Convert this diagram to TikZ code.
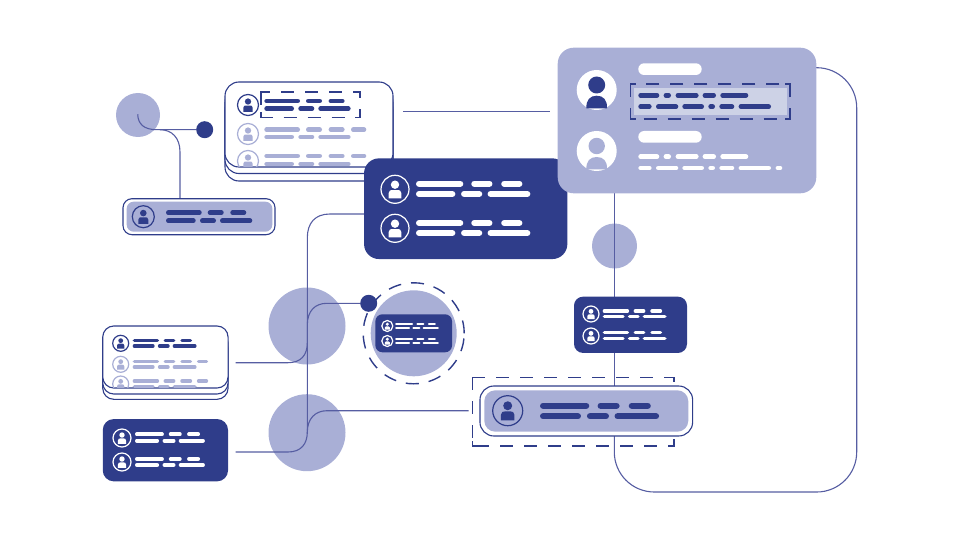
\documentclass[tikz,border=0pt]{standalone}
\usetikzlibrary{calc}

\definecolor{navy}{HTML}{2F3D8A}
\definecolor{lilac}{HTML}{A9AFD6}
\definecolor{mist}{HTML}{CDD2E6}
\definecolor{wire}{HTML}{565DA2}

\tikzset{
	blob/.style={circle, fill=lilac, inner sep=0, outer sep=0},
	dot/.style={circle, fill=navy, inner sep=0, outer sep=0, minimum size=17pt},
	card/.style={rectangle, inner sep=0, outer sep=0},
	darkcard/.style={card, fill=navy},
	paper/.style={card, fill=white, draw=navy, line width=1.1pt},
	softcard/.style={card, fill=lilac},
	link/.style={draw=wire, line width=1.1pt},
	marks/.style={draw=navy, line width=1.4pt},
	dashes/.style={marks, dash pattern=on 13pt off 11pt},
}

% one row of text bars: x, y, scale, colour, list
\newcommand{\barrow}[5]{
	\foreach \a/\b in #5 {
		\draw[#4, line cap=round, line width=#3*4.6pt] ({#1+#3*(\a+2.3)},#2) -- ({#1+#3*(\b-2.3)},#2);
	}
}
% ring with a person: x, y, radius, ring, person
\newcommand{\personicon}[5]{
	\draw[#4, line width=1.2pt] (#1,#2) circle [radius=#3];
	\begin{scope}[shift={(#1,#2)}, scale=#3]
		\fill[#5] (0,-.33) circle [radius=.3];
		\fill[#5] (-.45,.65) -- (-.45,.27) .. controls (-.45,.08) and (-.3,.05) .. (-.2,.05) -- (.2,.05) .. controls (.3,.05) and (.45,.08) .. (.45,.27) -- (.45,.65) -- cycle;
	\end{scope}
}
% dashed frame with solid corners: x1, y1, x2, y2
\newcommand{\dashframe}[4]{
	\draw[dashes] (#1,#2) rectangle (#3,#4);
	\draw[marks] (#1,#2+5) -- (#1,#2) -- (#1+5,#2);
	\draw[marks] (#3-5,#2) -- (#3,#2) -- (#3,#2+5);
	\draw[marks] (#3,#4-5) -- (#3,#4) -- (#3-5,#4);
	\draw[marks] (#1+5,#4) -- (#1,#4) -- (#1,#4-5);
}

\def\rowa{0/35.7,41.7/57.7,64.3/80.3}
\def\rowb{0/29.7,34/50,54/86.3}
\def\rowc{0/35.7,41.7/57.7,64.3/80.3,86.7/102}
\def\lineone{0/21,25.3/32.7,37.3/60.3,64.3/77.7,82/110}
\def\linetwo{0/13.3,17.7/40,44/65.7,70/76.7,81/96,100.3/132.7}
\def\linethree{0/13.3,17.7/40,44/65.7,70/76.7,81/96,100.3/132.7,137.3/144}

\begin{document}
\begin{tikzpicture}[x=1pt, y=-1pt]
	\useasboundingbox (0,0) rectangle (960,540);

	% blobs
	\node[blob, minimum size=44pt] (blobtop) at (138,115) {};
	\node[blob, minimum size=45pt] (blobmid) at (614.5,246) {};
	\node[blob, minimum size=77pt] (blobleft) at (307,326) {};
	\node[blob, minimum size=77pt] (blobdown) at (307,432.7) {};
	\node[blob, minimum size=86pt] (blobring) at (413.7,333.3) {};
	\node[circle, marks, dash pattern=on 13pt off 10pt, minimum size=101pt, inner sep=0] (ring) at (413.7,333.3) {};
	\node[dot] (dottop) at (204.7,129.7) {};
	\node[dot] (dotleft) at (368.7,303.3) {};

	% free ends
	\coordinate (topstart) at (137.7,114.3);
	\coordinate (lineA) at (403,111.5);
	\coordinate (lineD) at (550,111.5);
	\coordinate (leftG) at (235.7,362.7);
	\coordinate (leftH) at (235.7,452);
	\coordinate (rightF) at (468.7,410.7);
	\coordinate (outD) at (816,67.7);

	% connectors
	\draw[link] (topstart) .. controls (138,124) and (144,129.7) .. (156.7,129.7) -- (dottop);
	\draw[link] (160,129.7) .. controls (172,129.7) and (180,138) .. (180,152) -- (180,199);
	\draw[link] (lineA) -- (lineD);
	\draw[link] (364,214) -- (330,214) .. controls (315,214) and (307.3,223) .. (307.3,238) -- (307.3,434);
	\draw[link] (leftG) -- (288,362.7) .. controls (301,362.7) and (307.3,355) .. (307.3,343) -- (307.3,325) .. controls (307.3,311) and (315,303.3) .. (327,303.3) -- (dotleft);
	\draw[link] (leftH) -- (288,452) .. controls (301,452) and (307.3,444) .. (307.3,432) .. controls (307.3,419) and (315,410.7) .. (327,410.7) -- (rightF);
	\draw[link] (614.3,190) -- (614.3,390);
	\draw[link, rounded corners=40pt] (outD) -- (856.7,67.7) -- (856.7,492) -- (614.3,492) -- (614.3,430);

	% card with the lines on top, stack
	\node[paper, rounded corners=14pt, minimum width=168pt, minimum height=85pt] (stackA3) at (309,138.5) {};
	\node[paper, rounded corners=14pt, minimum width=168pt, minimum height=85pt] (stackA2) at (309,131) {};
	\node[paper, rounded corners=14pt, minimum width=168pt, minimum height=85pt] (stackA) at (309,124.5) {};
	\dashframe{261}{92}{360}{117.3}
	\personicon{248}{105}{10.5}{navy}{navy}
	\barrow{264.3}{101}{1}{navy}{\rowa}
	\barrow{264.3}{108.7}{1}{navy}{\rowb}
	\personicon{248}{134}{10.5}{lilac}{lilac}
	\barrow{264.3}{129.7}{1}{lilac}{\rowc}
	\barrow{264.3}{137}{1}{lilac}{\rowb}
	\begin{scope}
		\clip (225,145) rectangle (393,166.3);
		\personicon{248}{161}{10.5}{lilac}{lilac}
		\barrow{264.3}{156}{1}{lilac}{\rowc}
		\barrow{264.3}{164}{1}{lilac}{\rowb}
	\end{scope}

	% small card under the top blob
	\node[paper, rounded corners=9pt, minimum width=152pt, minimum height=36pt] (cardB) at (199,216.7) {};
	\node[softcard, rounded corners=7pt, minimum width=145.6pt, minimum height=30pt] (innerB) at (199.5,216.7) {};
	\personicon{143.3}{216.7}{11}{navy}{navy}
	\barrow{166}{212.7}{1}{navy}{\rowa}
	\barrow{166}{220.7}{1}{navy}{\rowb}

	% dark card in the middle
	\node[darkcard, rounded corners=15pt, minimum width=203.3pt, minimum height=100.7pt] (cardC) at (465.7,208.7) {};
	\foreach \iy/\ya/\yb in {189.3/183.7/194, 228.3/223/233} {
		\personicon{395}{\iy}{14}{white}{white}
		\barrow{416}{\ya}{1.325}{white}{\rowa}
		\barrow{416}{\yb}{1.325}{white}{\rowb}
	}

	% big card
	\node[softcard, rounded corners=16pt, minimum width=258.6pt, minimum height=145.6pt] (cardD) at (687,120.5) {};
	\node[card, fill=mist, minimum width=153pt, minimum height=26.7pt] (markD) at (710.8,101.6) {};
	\dashframe{630.7}{84}{790}{119}
	\fill[white] (596.7,90) circle [radius=20];
	\fill[navy] (596.7,85) circle [radius=8.5];
	\fill[navy] (586.4,108.3) .. controls (586,100) and (590,95.7) .. (596.7,95.7) .. controls (603.4,95.7) and (607.4,100) .. (607,108.3) -- cycle;
	\fill[white] (596.7,151) circle [radius=20];
	\fill[lilac] (596.7,146) circle [radius=8.2];
	\fill[lilac] (586.4,169.5) .. controls (586,161) and (590,157) .. (596.7,157) .. controls (603.4,157) and (607.4,161) .. (607,169.5) -- cycle;
	\fill[white, rounded corners=5.8pt] (638.3,63.3) rectangle (701.7,75);
	\fill[white, rounded corners=5.8pt] (638.3,131) rectangle (701.7,142.7);
	\barrow{638.3}{95.3}{1}{navy}{\lineone}
	\barrow{638.3}{106.7}{1}{navy}{\linetwo}
	\barrow{638.3}{156.7}{1}{white}{\lineone}
	\barrow{638.3}{168}{1}{white}{\linethree}

	% dark card on the right line
	\node[darkcard, rounded corners=9pt, minimum width=113pt, minimum height=56.3pt] (cardE) at (630.5,324.8) {};
	\foreach \iy/\ya/\yb in {314/311/316.7, 336/332.7/338.3} {
		\personicon{591}{\iy}{8}{white}{white}
		\barrow{602.7}{\ya}{.74}{white}{\rowa}
		\barrow{602.7}{\yb}{.74}{white}{\rowb}
	}

	% wide card in its frame
	\dashframe{472.7}{377.3}{674}{446}
	\node[paper, rounded corners=14pt, minimum width=212.7pt, minimum height=50pt] (cardF) at (586.3,411) {};
	\node[softcard, rounded corners=11pt, minimum width=204pt, minimum height=41.4pt] (innerF) at (586.3,411) {};
	\personicon{507.7}{410.7}{15}{navy}{navy}
	\barrow{540}{405.7}{1.38}{navy}{\rowa}
	\barrow{540}{416.3}{1.38}{navy}{\rowb}

	% card inside the ring
	\node[darkcard, rounded corners=7pt, minimum width=76.7pt, minimum height=38pt] (cardR) at (413.7,333.3) {};
	\foreach \iy/\ya/\yb in {326/324/328, 341/338.7/342.7} {
		\personicon{387.3}{\iy}{5.5}{white}{white}
		\barrow{395}{\ya}{.51}{white}{\rowa}
		\barrow{395}{\yb}{.51}{white}{\rowb}
	}

	% stack on the left
	\node[paper, rounded corners=11pt, minimum width=125.3pt, minimum height=62pt] (stackG3) at (165.4,368.3) {};
	\node[paper, rounded corners=11pt, minimum width=125.3pt, minimum height=62pt] (stackG2) at (165.4,363) {};
	\node[paper, rounded corners=11pt, minimum width=125.3pt, minimum height=62pt] (stackG) at (165.4,357) {};
	\personicon{120.7}{343.3}{8}{navy}{navy}
	\barrow{132.7}{340.3}{.74}{navy}{\rowa}
	\barrow{132.7}{346}{.74}{navy}{\rowb}
	\personicon{120.7}{364.3}{8}{lilac}{lilac}
	\barrow{132.7}{361.3}{.74}{lilac}{\rowc}
	\barrow{132.7}{367}{.74}{lilac}{\rowb}
	\begin{scope}
		\clip (103,373) rectangle (228,387.5);
		\personicon{120.7}{384}{8}{lilac}{lilac}
		\barrow{132.7}{381}{.74}{lilac}{\rowc}
		\barrow{132.7}{386.7}{.74}{lilac}{\rowb}
	\end{scope}

	% dark card bottom left
	\node[darkcard, rounded corners=11pt, minimum width=125.3pt, minimum height=62.3pt] (cardH) at (165.4,450.2) {};
	\foreach \iy/\ya/\yb in {438/434.3/440.7, 462/459/465} {
		\personicon{122}{\iy}{9}{white}{white}
		\barrow{135}{\ya}{.81}{white}{\rowa}
		\barrow{135}{\yb}{.81}{white}{\rowb}
	}
\end{tikzpicture}
\end{document}
